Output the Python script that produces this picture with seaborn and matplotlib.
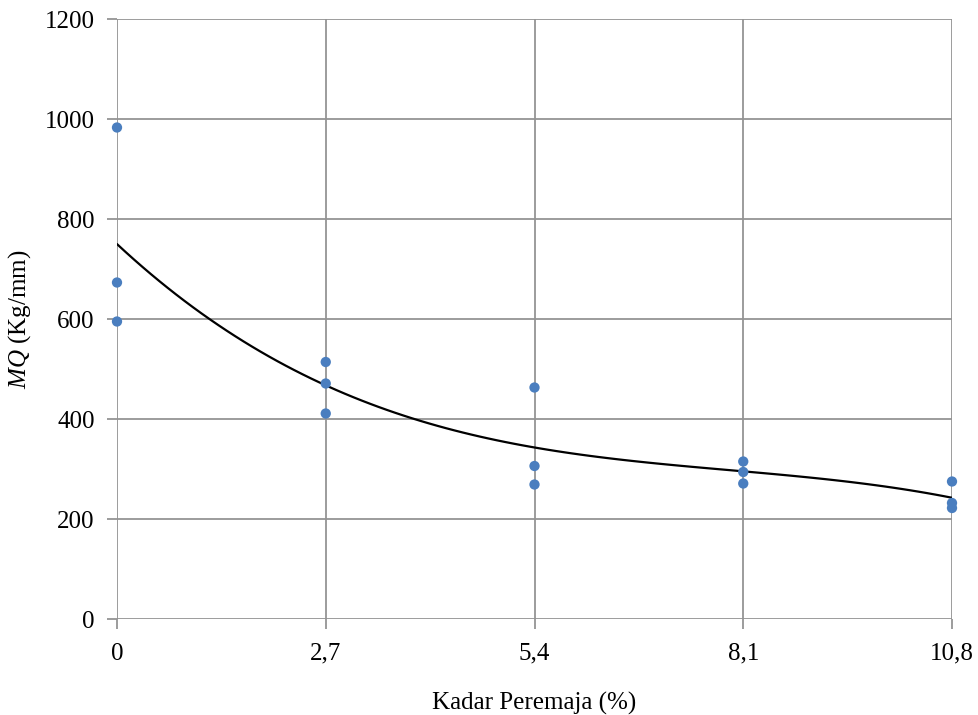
import numpy as np
import pandas as pd
import matplotlib
matplotlib.use("Agg")
import matplotlib.pyplot as plt
import seaborn as sns

# Data
kadar = [0, 0, 0, 2.7, 2.7, 2.7, 5.4, 5.4, 5.4, 8.1, 8.1, 8.1, 10.8, 10.8, 10.8]
mq = [983, 673, 595, 514, 471, 411, 463, 306, 269, 315, 294, 271, 275, 232, 222]
x_ticks = [0, 2.7, 5.4, 8.1, 10.8]
x_ticklabels = ["0", "2,7", "5,4", "8,1", "10,8"]
y_ticks = [0, 200, 400, 600, 800, 1000, 1200]

df = pd.DataFrame({"Kadar": kadar, "MQ": mq})

sns.set_theme(style="white")
plt.rcParams["font.family"] = ["Liberation Serif", "DejaVu Serif"]
plt.rcParams["mathtext.fontset"] = "custom"
plt.rcParams["mathtext.it"] = "Liberation Serif:italic"
plt.rcParams["mathtext.rm"] = "Liberation Serif"
plt.rcParams["text.color"] = "black"
plt.rcParams["axes.labelcolor"] = "black"

fig = plt.figure(figsize=(9.79, 7.15), dpi=100)
ax = fig.add_axes([117/979, 1-619/715, (952-117)/979, (619-19)/715])

grid_color = "#949494"
for yt in y_ticks:
    ax.axhline(yt, color=grid_color, lw=1.3, zorder=0)
for xt in x_ticks:
    ax.axvline(xt, color=grid_color, lw=1.3, zorder=0)

sns.regplot(data=df, x="Kadar", y="MQ", order=3, ci=None, scatter=False,
            line_kws={"color": "black", "lw": 1.6}, ax=ax, truncate=True)
sns.scatterplot(data=df, x="Kadar", y="MQ", color="#4a7ebf", s=55,
                edgecolor="none", ax=ax, zorder=3, clip_on=False)

ax.set_xlim(0, 10.8)
ax.set_ylim(0, 1200)
ax.set_xticks(x_ticks)
ax.set_xticklabels(x_ticklabels)
ax.set_yticks(y_ticks)
for s in ax.spines.values():
    s.set_visible(False)
ax.tick_params(axis="both", which="major", length=7, width=1.3, color=grid_color,
               labelsize=18, direction="out", left=True, bottom=True, labelcolor="black")
ax.tick_params(axis="x", pad=10)
ax.tick_params(axis="y", pad=9)

ax.set_xlabel("Kadar Peremaja (%)", fontsize=18, labelpad=20, color="black")
ax.set_ylabel(r"$MQ$ (Kg/mm)", fontsize=18, color="black")
ax.yaxis.set_label_coords(-0.101, 0.5)

fig.savefig("out.png", dpi=100)
